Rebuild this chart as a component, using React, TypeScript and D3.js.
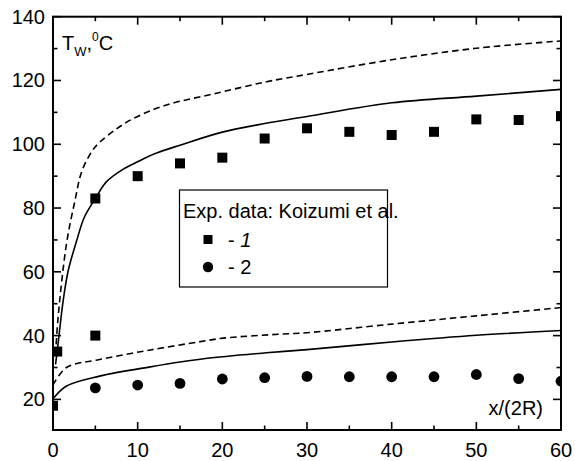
import React from "react";
import * as d3 from "d3";

// ---- data ----
const sqX = [0, 0.5, 5, 5, 10, 15, 20, 25, 30, 35, 40, 45, 50, 55, 60];
const sqY = [18, 35, 40, 83, 90, 94, 95.8, 101.8, 105, 103.9, 102.9, 103.9, 107.8, 107.6, 108.8];
const ciX = [5, 10, 15, 20, 25, 30, 35, 40, 45, 50, 55, 60];
const ciY = [23.6, 24.5, 25, 26.4, 26.8, 27.2, 27.1, 27.1, 27.1, 27.8, 26.5, 25.7];

const upperSolid: [number, number][] = [
  [0.3, 31], [0.5, 35.2], [1.2, 50.9], [1.8, 60.4], [2.8, 69.8], [3.7, 77.1], [5, 83],
  [6.3, 88.2], [8.3, 92.2], [10, 94.5], [12, 97], [15, 99.7], [20, 103.8], [25, 106.5],
  [30, 108.7], [40, 113], [50, 115.1], [60, 117.2],
];
const upperDashed: [number, number][] = [
  [0.3, 34], [0.6, 45.7], [1.6, 68.9], [2.6, 82.4], [3.4, 91.5], [4.6, 97.8], [5.5, 100.6],
  [7.5, 104.8], [9.5, 108.1], [13.4, 112.3], [19.3, 116], [25.2, 119.6], [30, 121.9], [40, 126.5],
  [50, 130.1], [60, 132.4],
];
const lowerDashed: [number, number][] = [
  [0, 24.5], [1.6, 30], [5.5, 32.5], [11.5, 35.5], [17.4, 38.1], [20.1, 39.2],
  [27.2, 40.5], [30, 40.9], [40, 43.6], [50, 46.2], [60, 48.8],
];
const lowerSolid: [number, number][] = [
  [0, 20.2], [1.6, 24.2], [5.5, 27.3], [11.5, 30.2], [18, 32.8], [25.2, 34.6],
  [30, 35.6], [40, 38], [50, 40.1], [60, 41.6],
];

const xMajor = [0, 10, 20, 30, 40, 50, 60];
const xMinor = [5, 15, 25, 35, 45, 55];
const yMajor = [20, 40, 60, 80, 100, 120, 140];
const yMinor = [30, 50, 70, 90, 110, 130];

const legendTitle = "Exp. data: Koizumi et al.";
const legendLabels = ["- 1", "- 2"];

export default function App() {
  const L = 53, R = 561, T = 16.7, B = 430;
  const x = d3.scaleLinear().domain([0, 60]).range([L, R]);
  const y = d3.scaleLinear().domain([10.4, 140]).range([B, T]);
  const line = d3
    .line<[number, number]>()
    .x((d) => x(d[0]))
    .y((d) => y(d[1]))
    .curve(d3.curveCatmullRom.alpha(0.5));
  const font = "Liberation Sans, Arial, sans-serif";
  const fs = 20;

  return (
    <div style={{ position: "absolute", left: 0, top: 0 }}>
      <svg width={575} height={461} style={{ display: "block", background: "#fff" }} fontFamily={font}>
        <defs>
          <clipPath id="plot">
            <rect x={L} y={T} width={R - L} height={B - T} />
          </clipPath>
        </defs>
        <rect x={0} y={0} width={575} height={461} fill="#fff" />
        <g clipPath="url(#plot)" fill="none" stroke="#000" strokeWidth={1.6}>
          <path d={line(upperSolid) || ""} />
          <path d={line(lowerSolid) || ""} />
          <path d={line(upperDashed) || ""} strokeDasharray="6.5,4" />
          <path d={line(lowerDashed) || ""} strokeDasharray="6.5,4" />
        </g>
        <g clipPath="url(#plot)" fill="#000">
          {sqX.map((v, i) => (
            <rect key={"s" + i} x={x(v) - 5} y={y(sqY[i]) - 5} width={10} height={10} />
          ))}
          {ciX.map((v, i) => (
            <circle key={"c" + i} cx={x(v)} cy={y(ciY[i])} r={5.4} />
          ))}
        </g>
        {/* frame */}
        <rect x={L} y={T} width={R - L} height={B - T} fill="none" stroke="#000" strokeWidth={2} />
        {/* ticks */}
        <g stroke="#000" strokeWidth={1.6}>
          {xMajor.map((v) => (
            <g key={"xm" + v}>
              <line x1={x(v)} x2={x(v)} y1={B} y2={B - 8} />
              <line x1={x(v)} x2={x(v)} y1={T} y2={T + 8} />
            </g>
          ))}
          {xMinor.map((v) => (
            <g key={"xn" + v}>
              <line x1={x(v)} x2={x(v)} y1={B} y2={B - 4.5} />
              <line x1={x(v)} x2={x(v)} y1={T} y2={T + 4.5} />
            </g>
          ))}
          {yMajor.map((v) => (
            <g key={"ym" + v}>
              <line x1={L} x2={L + 8} y1={y(v)} y2={y(v)} />
              <line x1={R} x2={R - 8} y1={y(v)} y2={y(v)} />
            </g>
          ))}
          {yMinor.map((v) => (
            <g key={"yn" + v}>
              <line x1={L} x2={L + 4.5} y1={y(v)} y2={y(v)} />
              <line x1={R} x2={R - 4.5} y1={y(v)} y2={y(v)} />
            </g>
          ))}
        </g>
        {/* tick labels */}
        <g fontSize={fs} fill="#000">
          {xMajor.map((v) => (
            <text key={"xl" + v} x={x(v)} y={457} textAnchor="middle">
              {v}
            </text>
          ))}
          {yMajor.map((v) => (
            <text key={"yl" + v} x={45} y={y(v) + 7} textAnchor="end">
              {v}
            </text>
          ))}
        </g>
        {/* axis titles */}
        <text x={62} y={50} fontSize={fs} fill="#000">
          T
          <tspan fontSize={13} dy={6}>W</tspan>
          <tspan fontSize={fs} dy={-6}>,</tspan>
          <tspan fontSize={12} dy={-9}>0</tspan>
          <tspan fontSize={fs} dy={9}>C</tspan>
        </text>
        <text x={543} y={415} fontSize={fs} textAnchor="end" fill="#000">
          x/(2R)
        </text>
        {/* legend */}
        <rect x={179.5} y={190} width={208} height={97} fill="#fff" stroke="#000" strokeWidth={1.2} />
        <text x={183} y={218} fontSize={fs} fill="#000">
          {legendTitle}
        </text>
        <rect x={203.5} y={235} width={9} height={9} fill="#000" />
        <text x={228} y={247} fontSize={fs} fill="#000">
          - <tspan fontStyle="italic">1</tspan>
        </text>
        <circle cx={208} cy={267} r={5.2} fill="#000" />
        <text x={228} y={274} fontSize={fs} fill="#000">
          {legendLabels[1]}
        </text>
      </svg>
    </div>
  );
}
